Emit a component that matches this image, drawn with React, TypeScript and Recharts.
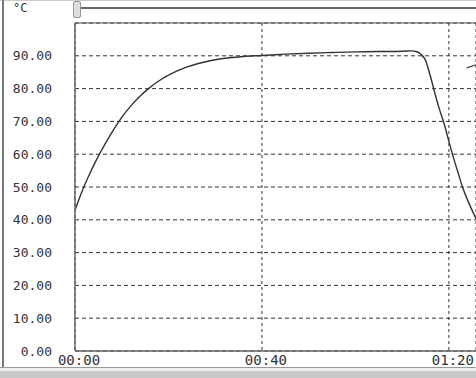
import { CartesianGrid, Line, LineChart, ReferenceLine, XAxis, YAxis } from "recharts"

// minutes since start
const minutes = [0, 1, 2, 3, 4, 5, 6, 7, 8, 9, 10, 12, 14, 16, 18, 20, 22, 24, 26, 28, 30, 33, 36, 40, 45, 50, 55, 60, 65, 70, 72, 73, 74, 75, 76, 77, 78, 79, 80, 81, 82, 83, 84, 85, 86]
const temps = [43, 46.8, 50.4, 53.6, 56.6, 59.4, 62, 64.5, 66.9, 69.1, 71.2, 74.8, 77.8, 80.3, 82.4, 84.1, 85.5, 86.6, 87.5, 88.2, 88.8, 89.4, 89.8, 90.1, 90.5, 90.8, 91, 91.2, 91.3, 91.4, 91.5, 91.3, 90.5, 88.6, 84, 78.6, 73.6, 69.2, 63.9, 58.8, 54.2, 49.6, 46, 42.8, 39.8]

const probeMinutes = [83.8, 86]
const probeTemps = [86.3, 87.3]

const yTicks = [0, 10, 20, 30, 40, 50, 60, 70, 80, 90]
const xTicks = [0, 40, 80]
const minorTicks = Array.from({ length: 43 }, (_, i) => i * 2)

const mainData = minutes.map((t, i) => ({ t, v: temps[i] }))
const probeData = probeMinutes.map((t, i) => ({ t, v: probeTemps[i] }))

const fmtTime = (m: number) =>
  `${String(Math.floor(m / 60)).padStart(2, "0")}:${String(m % 60).padStart(2, "0")}`

const font = "'DejaVu Sans Mono', monospace"

// labels sit a few px right of their grid line, like the original
const TimeTick = ({ x, payload }: any) => (
  <text x={x + 4} y={365} textAnchor="middle" fill="#333" fontSize={14} fontFamily={font}>
    {fmtTime(payload.value)}
  </text>
)

export default function App() {
  return (
    <div style={{ position: "absolute", left: 0, top: 0, width: 476, height: 378, background: "#fff", overflow: "hidden" }}>
      {/* window frame bits */}
      <div style={{ position: "absolute", left: 0, top: 0, width: 476, height: 1, background: "#ccc" }} />
      <div style={{ position: "absolute", left: 2, top: 0, width: 2, height: 367, background: "#777" }} />
      <div style={{ position: "absolute", left: 78, top: 7, width: 400, height: 2, background: "#666" }} />
      <div style={{ position: "absolute", left: 73, top: 1, width: 6, height: 15, background: "#ddd", border: "1px solid #999", borderRadius: 2 }} />
      <div style={{ position: "absolute", left: 13, top: 1, fontSize: 12, fontFamily: font, color: "#333" }}>°C</div>

      <LineChart width={476} height={378} data={mainData} margin={{ top: 23, right: 0, bottom: 0, left: 0 }}>
        <CartesianGrid horizontal vertical={false} stroke="#333" strokeDasharray="4 3" />
        <CartesianGrid horizontal={false} vertical stroke="#333" strokeDasharray="3 3" />
        <XAxis
          dataKey="t"
          type="number"
          domain={[0, 85.8]}
          allowDataOverflow
          ticks={xTicks}
          tick={<TimeTick />}
          tickLine={false}
          axisLine={{ stroke: "#666", strokeWidth: 1.5 }}
          height={27}
        />
        <XAxis
          xAxisId="top"
          orientation="top"
          type="number"
          domain={[0, 85.8]}
          allowDataOverflow
          ticks={minorTicks}
          tick={false}
          tickSize={3}
          axisLine={{ stroke: "#555" }}
          tickLine={{ stroke: "#555" }}
          height={0}
        />
        <YAxis
          type="number"
          domain={[0, 100]}
          ticks={yTicks}
          tickFormatter={(v: number) => v.toFixed(2)}
          tick={{ fill: "#333", fontSize: 13, fontFamily: font }}
          tickLine={false}
          tickSize={0}
          tickMargin={23}
          axisLine={{ stroke: "#666", strokeWidth: 1.5 }}
          width={75}
        />
        <ReferenceLine y={100} stroke="#555" />
        <Line data={mainData} dataKey="v" type="monotone" stroke="#333" strokeWidth={1.4} dot={false} isAnimationActive={false} />
        <Line data={probeData} dataKey="v" type="linear" stroke="#444" strokeWidth={1.2} dot={false} isAnimationActive={false} />
      </LineChart>

      <div style={{ position: "absolute", left: 0, top: 367, width: 476, height: 1, background: "#999" }} />
      <div style={{ position: "absolute", left: 0, top: 368, width: 476, height: 3, background: "#eee" }} />
      <div style={{ position: "absolute", left: 0, top: 371, width: 476, height: 7, background: "#c8c8c8" }} />
    </div>
  )
}
